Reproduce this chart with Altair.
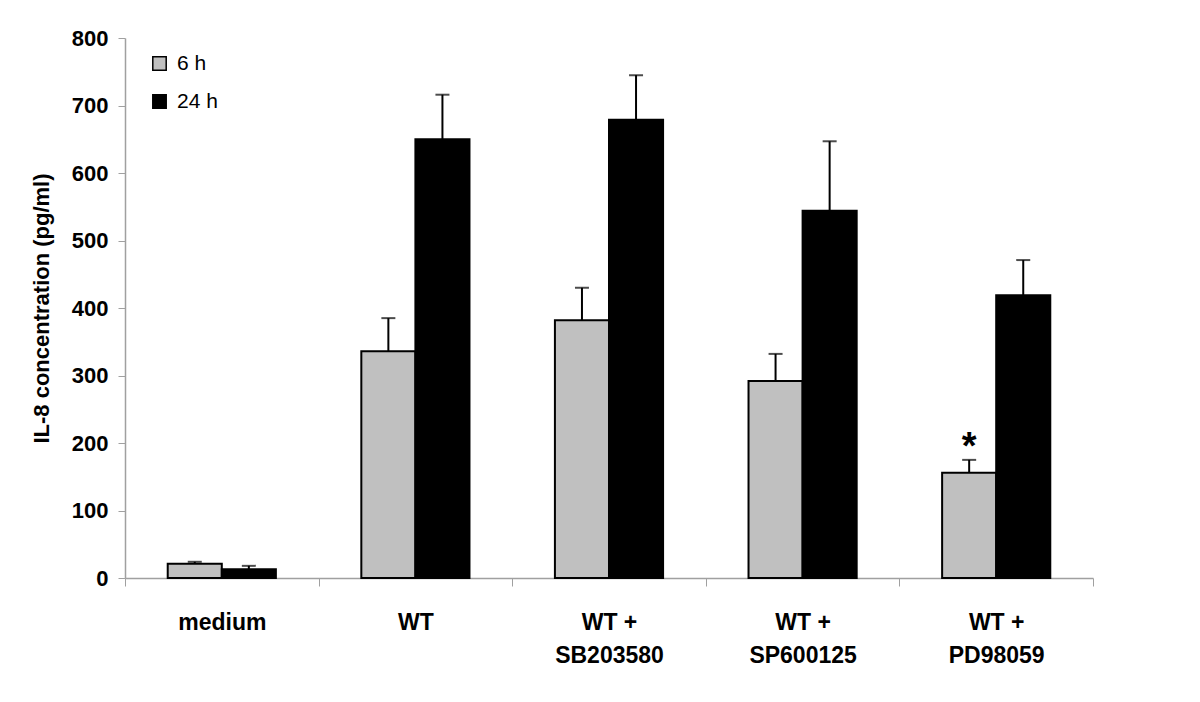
import altair as alt
import pandas as pd

categories = ["medium", "WT", "WT +\nSB203580", "WT +\nSP600125", "WT +\nPD98059"]
groups = ["6 h", "24 h"]
values_6h = [21, 336, 382, 292, 156]
errors_6h = [3, 49, 48, 40, 19]
values_24h = [13, 650, 679, 544, 419]
errors_24h = [5, 66, 66, 103, 52]
star_category = ["WT +\nPD98059"]
star_group = ["6 h"]
star_value = [205]

rows = []
for c, v, e in zip(categories, values_6h, errors_6h):
    rows.append({"cat": c, "group": "6 h", "value": v, "top": v + e})
for c, v, e in zip(categories, values_24h, errors_24h):
    rows.append({"cat": c, "group": "24 h", "value": v, "top": v + e})
df = pd.DataFrame(rows)
star_df = pd.DataFrame({"cat": star_category, "group": star_group, "value": star_value, "txt": ["*"]})

font = "Liberation Sans"

x = alt.X("cat:N", sort=categories, title=None,
          scale=alt.Scale(paddingInner=0, paddingOuter=0),
          axis=alt.Axis(labelExpr="split(datum.label, '\\n')", labelAngle=0,
                        labelFont=font, labelFontSize=23, labelFontWeight="bold",
                        labelColor="black", labelPadding=36, labelLineHeight=33,
                        labelBaseline="middle",
                        tickBand="extent", tickSize=8, tickColor="#a0a0a0",
                        domainColor="#a0a0a0", domainWidth=1.5, grid=False))
xo = alt.XOffset("group:N", sort=groups,
                 scale=alt.Scale(domain=groups, paddingInner=0, paddingOuter=0.79))
y = alt.Y("value:Q", scale=alt.Scale(domain=[0, 800], nice=False),
          title="IL-8 concentration (pg/ml)",
          axis=alt.Axis(values=list(range(0, 801, 100)), grid=False,
                        labelFont=font, labelFontSize=22, labelFontWeight="bold",
                        labelColor="black", labelPadding=10, tickSize=7,
                        tickColor="#a0a0a0", domainColor="#a0a0a0", domainWidth=1.5,
                        titleFont=font, titleFontSize=22, titleFontWeight="bold",
                        titleColor="black", titlePadding=18))

bars = alt.Chart(df).mark_bar(stroke="black", strokeWidth=2).encode(
    x=x, xOffset=xo, y=y,
    color=alt.Color("group:N", sort=groups,
                    scale=alt.Scale(domain=groups, range=["#c0c0c0", "#000000"]),
                    legend=alt.Legend(title=None, orient="none", legendX=24, legendY=15,
                                      symbolType="square", symbolSize=180,
                                      symbolStrokeColor="black", symbolStrokeWidth=1.5,
                                      labelFont=font, labelFontSize=21, labelColor="black",
                                      rowPadding=16, labelOffset=7))
)

err = alt.Chart(df).mark_rule(color="black", strokeWidth=2).encode(
    x=x, xOffset=xo, y="value:Q", y2="top:Q")
caps = alt.Chart(df).mark_tick(color="black", thickness=2, size=14, orient="horizontal").encode(
    x=x, xOffset=xo, y="top:Q")
star = alt.Chart(star_df).mark_text(font=font, fontSize=38, fontWeight="bold", color="black",
                                    baseline="middle", dy=8).encode(
    x=x, xOffset=xo, y="value:Q", text="txt:N")

chart = alt.layer(bars, err, caps, star).properties(
    width=968, height=540,
    autosize=alt.AutoSizeParams(type="none"),
    padding={"left": 117, "top": 30, "right": 20, "bottom": 100},
).configure(background="white").configure_view(stroke=None)

chart.save("out.html", embed_options={"renderer": "svg", "actions": False})
